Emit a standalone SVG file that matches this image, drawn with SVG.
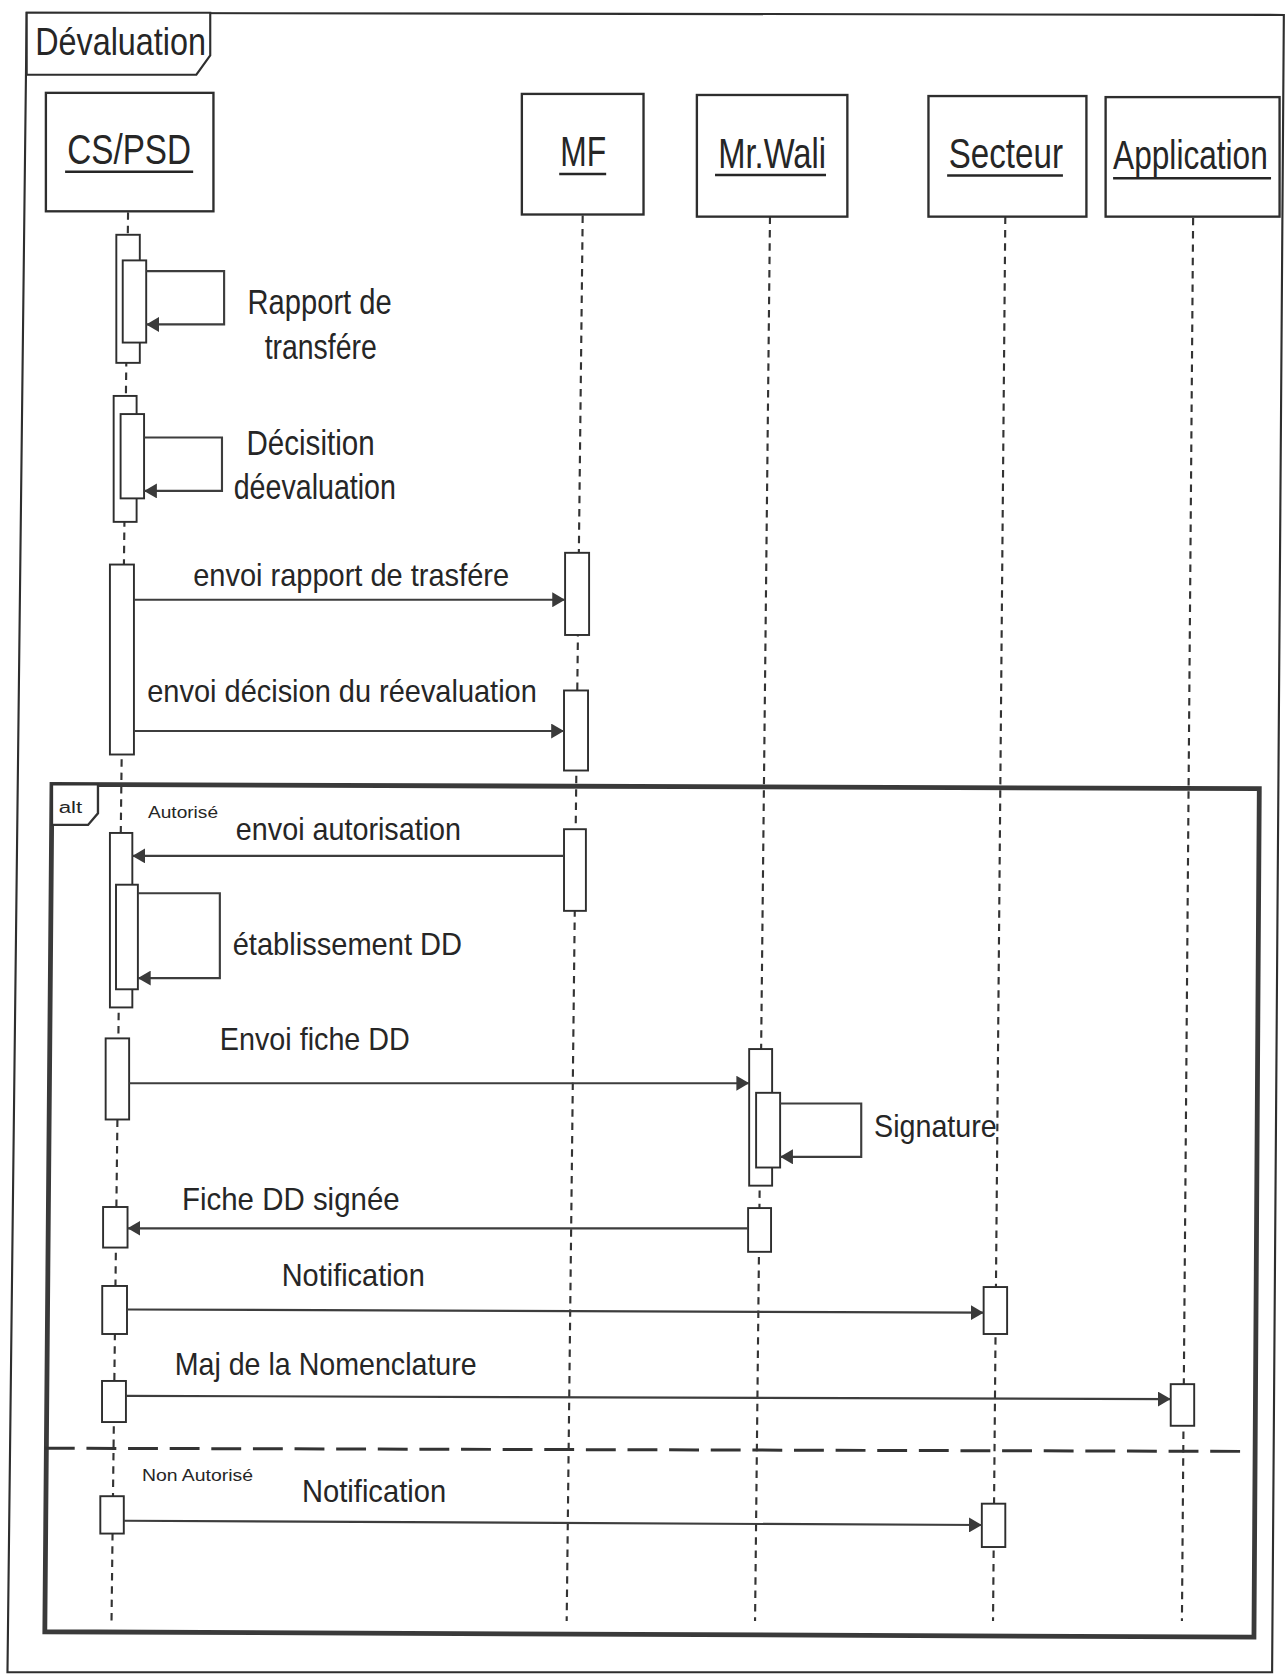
<svg xmlns="http://www.w3.org/2000/svg" width="1287" height="1674" viewBox="0 0 1287 1674">
<defs>
<style>
.t{font-family:"Liberation Sans Narrow","Liberation Sans",Arial,sans-serif;fill:#262626}
.head{font-size:39px}
.tab{font-size:37px}
.msg{font-size:30px}
.self{font-size:32px}
.small{font-size:15px}
.box{fill:#fff;stroke:#2e2e2e;stroke-width:2.2}
.act{fill:#fff;stroke:#2e2e2e;stroke-width:1.8}
.life{stroke:#333;stroke-width:2;stroke-dasharray:7 5.5;fill:none}
.ml{stroke:#3d3d3d;stroke-width:2;fill:none;marker-end:url(#ah)}
.ul{stroke:#262626;stroke-width:2.4}
</style>
<marker id="ah" markerUnits="userSpaceOnUse" markerWidth="12" markerHeight="14" viewBox="0 0 12 14" refX="12" refY="7" orient="auto">
<path d="M0,0 L12,7 L0,14 z" fill="#3a3a3a"/>
</marker>
</defs>
<rect width="1287" height="1674" fill="#fff"/>
<g transform="scale(1.0672)">
<g id="frame">
<polygon points="25,12 1203,14 1192,1567 7,1567" fill="none" stroke="#2e2e2e" stroke-width="2"/>
<polygon points="25,12 197,12 197,52 184,70 25,70" fill="#fff" stroke="#2e2e2e" stroke-width="2"/>
<text class="t tab" x="33" y="52" textLength="160" lengthAdjust="spacingAndGlyphs">Dévaluation</text>
</g>
<g id="lifelines">
<line class="life" x1="120" y1="199" x2="104.5" y2="1519"/>
<line class="life" x1="546" y1="202" x2="531" y2="1519"/>
<line class="life" x1="721.5" y1="203" x2="707.5" y2="1519"/>
<line class="life" x1="942" y1="203" x2="930.5" y2="1519"/>
<line class="life" x1="1118" y1="204" x2="1107.5" y2="1519"/>
</g>
<g id="alt">
<polygon points="48.7,735 1180,739 1175,1534 42,1529" fill="none" stroke="#3a3a3a" stroke-width="4.5"/>
<polygon points="48.7,735 91.8,735 91.8,762 82.5,773 48.7,773" fill="#fff" stroke="#333" stroke-width="2.2"/>
<text class="t small" x="55" y="762" textLength="22" lengthAdjust="spacingAndGlyphs">alt</text>
<text class="t small" x="138.7" y="766.5" textLength="65.6" lengthAdjust="spacingAndGlyphs">Autorisé</text>
<line x1="42" y1="1357" x2="1167" y2="1360" stroke="#333" stroke-width="2.8" stroke-dasharray="28 11"/>
<text class="t small" x="133" y="1388" textLength="104" lengthAdjust="spacingAndGlyphs">Non Autorisé</text>
</g>
<g id="cspsd">
<rect class="box" x="43" y="87" width="157" height="111"/>
<text class="t head" x="63" y="154" textLength="116" lengthAdjust="spacingAndGlyphs">CS/PSD</text>
<line class="ul" x1="61" y1="161" x2="181" y2="161"/>
</g>
<g id="mf">
<rect class="box" x="489" y="88" width="114" height="113"/>
<text class="t head" x="525" y="156" textLength="43" lengthAdjust="spacingAndGlyphs">MF</text>
<line class="ul" x1="524" y1="163" x2="568" y2="163"/>
</g>
<g id="mrwali">
<rect class="box" x="653" y="89" width="141" height="114"/>
<text class="t head" x="673" y="157" textLength="101" lengthAdjust="spacingAndGlyphs">Mr.Wali</text>
<line class="ul" x1="670" y1="164" x2="774" y2="164"/>
</g>
<g id="secteur">
<rect class="box" x="870" y="90" width="148" height="113"/>
<text class="t head" x="889" y="157" textLength="107" lengthAdjust="spacingAndGlyphs">Secteur</text>
<line class="ul" x1="887.5" y1="164.5" x2="996" y2="164.5"/>
</g>
<g id="application">
<rect class="box" x="1036" y="91" width="163" height="112"/>
<text transform="translate(1043,158) scale(0.78,1)" style="font-family:'Liberation Sans',Arial,sans-serif;font-size:38px;fill:#262626">Application</text>
<line class="ul" x1="1043" y1="167" x2="1191" y2="167"/>
</g>
<g id="activations">
<rect class="act" x="109" y="220" width="22" height="120"/>
<rect class="act" x="115" y="244" width="22" height="77"/>
<rect class="act" x="106.5" y="371" width="21.5" height="118"/>
<rect class="act" x="113" y="388" width="22" height="79"/>
<rect class="act" x="103" y="529" width="22.5" height="178"/>
<rect class="act" x="529.5" y="518" width="22.5" height="77"/>
<rect class="act" x="528.5" y="647" width="22.5" height="75"/>
<rect class="act" x="528.5" y="777" width="20.5" height="76.5"/>
<rect class="act" x="103" y="780.5" width="21" height="163.5"/>
<rect class="act" x="108.7" y="829" width="20.5" height="98"/>
<rect class="act" x="99" y="973" width="22" height="76"/>
<rect class="act" x="702" y="983" width="21.5" height="128"/>
<rect class="act" x="708.5" y="1024" width="22.5" height="70"/>
<rect class="act" x="701" y="1132" width="21.5" height="41"/>
<rect class="act" x="96.6" y="1131" width="22.9" height="38"/>
<rect class="act" x="95.8" y="1205" width="23.2" height="45"/>
<rect class="act" x="921.7" y="1206" width="22" height="44"/>
<rect class="act" x="95.6" y="1294" width="22.4" height="38.5"/>
<rect class="act" x="1097" y="1297" width="22" height="39"/>
<rect class="act" x="94" y="1402" width="22" height="35"/>
<rect class="act" x="920" y="1409" width="22" height="40.6"/>
</g>
<g id="connectors">
<path class="ml" d="M137,254 H210 V304 H137"/>
<path class="ml" d="M135,410 H208 V460 H135"/>
<path class="ml" d="M125.5,562 H529.5"/>
<path class="ml" d="M125.5,685 H528.5"/>
<path class="ml" d="M528.5,802 H124"/>
<path class="ml" d="M129.2,837 H206 V916.5 H129.2"/>
<path class="ml" d="M121,1015 H702"/>
<path class="ml" d="M731,1034 H807 V1084 H731"/>
<path class="ml" d="M701,1151 H119.5"/>
<path class="ml" d="M119,1227 L921.7,1230"/>
<path class="ml" d="M118,1308 L1097,1311" stroke-width="4"/>
<path class="ml" d="M116,1425 L920,1429"/>
</g>
<g id="labels">
<text class="t self" x="232" y="294" textLength="135" lengthAdjust="spacingAndGlyphs">Rapport de</text>
<text class="t self" x="248" y="336" textLength="105" lengthAdjust="spacingAndGlyphs">transfére</text>
<text class="t self" x="231" y="426" textLength="120" lengthAdjust="spacingAndGlyphs">Décisition</text>
<text class="t self" x="219" y="468" textLength="152" lengthAdjust="spacingAndGlyphs">déevaluation</text>
<text class="t msg" x="181" y="549" textLength="296" lengthAdjust="spacingAndGlyphs">envoi rapport de trasfére</text>
<text class="t msg" x="138" y="658" textLength="365" lengthAdjust="spacingAndGlyphs">envoi décision du réevaluation</text>
<text class="t msg" x="221" y="787" textLength="211" lengthAdjust="spacingAndGlyphs">envoi autorisation</text>
<text class="t msg" x="218" y="895" textLength="215" lengthAdjust="spacingAndGlyphs">établissement DD</text>
<text class="t msg" x="206" y="984" textLength="178" lengthAdjust="spacingAndGlyphs">Envoi fiche DD</text>
<text class="t msg" x="819" y="1065" textLength="115" lengthAdjust="spacingAndGlyphs">Signature</text>
<text class="t msg" x="170.5" y="1134" textLength="204" lengthAdjust="spacingAndGlyphs">Fiche DD signée</text>
<text class="t msg" x="264" y="1205" textLength="134" lengthAdjust="spacingAndGlyphs">Notification</text>
<text class="t msg" x="163.7" y="1288" textLength="283" lengthAdjust="spacingAndGlyphs">Maj de la Nomenclature</text>
<text class="t msg" x="283" y="1407" textLength="135" lengthAdjust="spacingAndGlyphs">Notification</text>
</g>
</g>
</svg>
